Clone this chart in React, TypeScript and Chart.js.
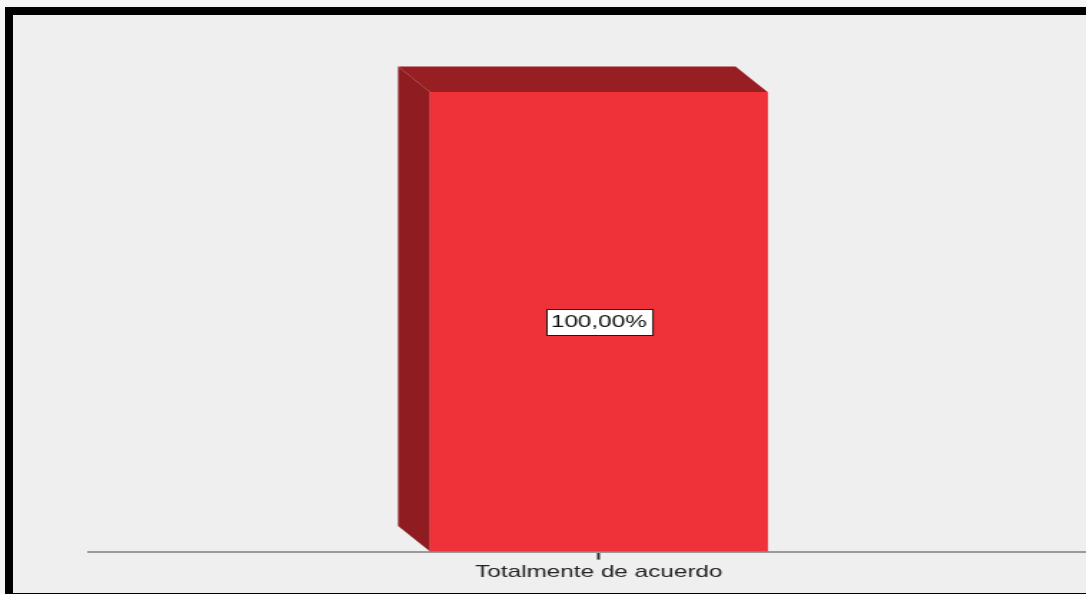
import React, { useEffect, useRef } from 'react';
import { Chart, registerables } from 'chart.js';

Chart.register(...registerables);

// ---- data ----
const categories: string[] = ['Totalmente de acuerdo'];
const percentages: number[] = [100];

// ---- style ----
const STRETCH = 1.43; // the reference picture is horizontally stretched
const LOGICAL_W = 776;
const H = 594;
const FRONT = '#ef323a';
const SIDE = '#8f1c20';
const TOP = '#971e23';
const DEPTH_X = -22.4;
const DEPTH_Y = -25.6;
const FONT = "'Liberation Sans', Arial, sans-serif";

const fmt = (v: number) => v.toFixed(2).replace('.', ',') + '%';

const bar3d = {
  id: 'bar3d',
  beforeDatasetsDraw(chart: any) {
    const ctx = chart.ctx;
    const meta = chart.getDatasetMeta(0);
    meta.data.forEach((el: any) => {
      const { x, y, base, width } = el.getProps(['x', 'y', 'base', 'width'], true);
      const left = x - width / 2;
      const right = x + width / 2;
      ctx.save();
      ctx.fillStyle = SIDE;
      ctx.beginPath();
      ctx.moveTo(left, y);
      ctx.lineTo(left + DEPTH_X, y + DEPTH_Y);
      ctx.lineTo(left + DEPTH_X, base + DEPTH_Y);
      ctx.lineTo(left, base);
      ctx.closePath();
      ctx.fill();
      ctx.fillStyle = TOP;
      ctx.beginPath();
      ctx.moveTo(left, y);
      ctx.lineTo(left + DEPTH_X, y + DEPTH_Y);
      ctx.lineTo(right + DEPTH_X, y + DEPTH_Y);
      ctx.lineTo(right, y);
      ctx.closePath();
      ctx.fill();
      ctx.restore();
    });
  },
  afterDatasetsDraw(chart: any) {
    const ctx = chart.ctx;
    const meta = chart.getDatasetMeta(0);
    const data = chart.data.datasets[0].data as number[];
    meta.data.forEach((el: any, i: number) => {
      const { x, y, base } = el.getProps(['x', 'y', 'base'], true);
      const cy = (y + base) / 2;
      const text = fmt(data[i]);
      ctx.save();
      ctx.font = `17px ${FONT}`;
      const tw = ctx.measureText(text).width;
      const bw = tw + 7;
      const bh = 26;
      const bx = Math.round(x - bw / 2) + 0.5;
      const by = Math.round(cy - bh / 2) + 0.5;
      ctx.fillStyle = '#ffffff';
      ctx.fillRect(bx, by, bw, bh);
      ctx.strokeStyle = '#1a1a1a';
      ctx.lineWidth = 1;
      ctx.strokeRect(bx, by, bw, bh);
      ctx.fillStyle = '#111111';
      ctx.textAlign = 'center';
      ctx.textBaseline = 'middle';
      ctx.fillText(text, x, cy + 1);
      ctx.restore();
    });
  },
};

export default function App() {
  const ref = useRef<HTMLCanvasElement | null>(null);

  useEffect(() => {
    if (!ref.current) return;
    const chart = new Chart(ref.current, {
      type: 'bar',
      data: {
        labels: categories,
        datasets: [
          {
            data: percentages,
            backgroundColor: FRONT,
            borderWidth: 0,
            barThickness: 236,
          },
        ],
      },
      options: {
        responsive: false,
        animation: false,
        events: [],
        layout: { padding: { left: 61.5, right: 0, top: 92, bottom: 8 } },
        plugins: {
          legend: { display: false },
          tooltip: { enabled: false },
        },
        scales: {
          x: {
            grid: {
              display: true,
              drawOnChartArea: false,
              drawTicks: true,
              tickLength: 8,
              tickWidth: 2,
              tickColor: '#333333',
              offset: false,
            },
            border: { display: true, color: '#9a9a9a', width: 2 },
            ticks: {
              color: '#222222',
              font: { family: FONT, size: 17 },
              padding: 3,
            },
          },
          y: {
            display: false,
            min: 0,
            max: 100,
          },
        },
      },
      plugins: [bar3d],
    });
    return () => chart.destroy();
  }, []);

  return (
    <div
      style={{
        position: 'fixed',
        left: 0,
        top: 0,
        width: 1086,
        height: 594,
        overflow: 'hidden',
        background: '#f5f5f5',
      }}
    >
      <div
        style={{
          position: 'absolute',
          left: 5,
          top: 7,
          width: 1120,
          height: 594,
          boxSizing: 'border-box',
          borderLeft: '8px solid #000',
          borderTop: '8px solid #000',
          borderBottom: '8px solid #000',
          background: '#efefef',
        }}
      />
      <canvas
        ref={ref}
        width={LOGICAL_W}
        height={H}
        style={{
          position: 'absolute',
          left: 0,
          top: 0,
          transform: `scaleX(${STRETCH})`,
          transformOrigin: '0 0',
        }}
      />
    </div>
  );
}
